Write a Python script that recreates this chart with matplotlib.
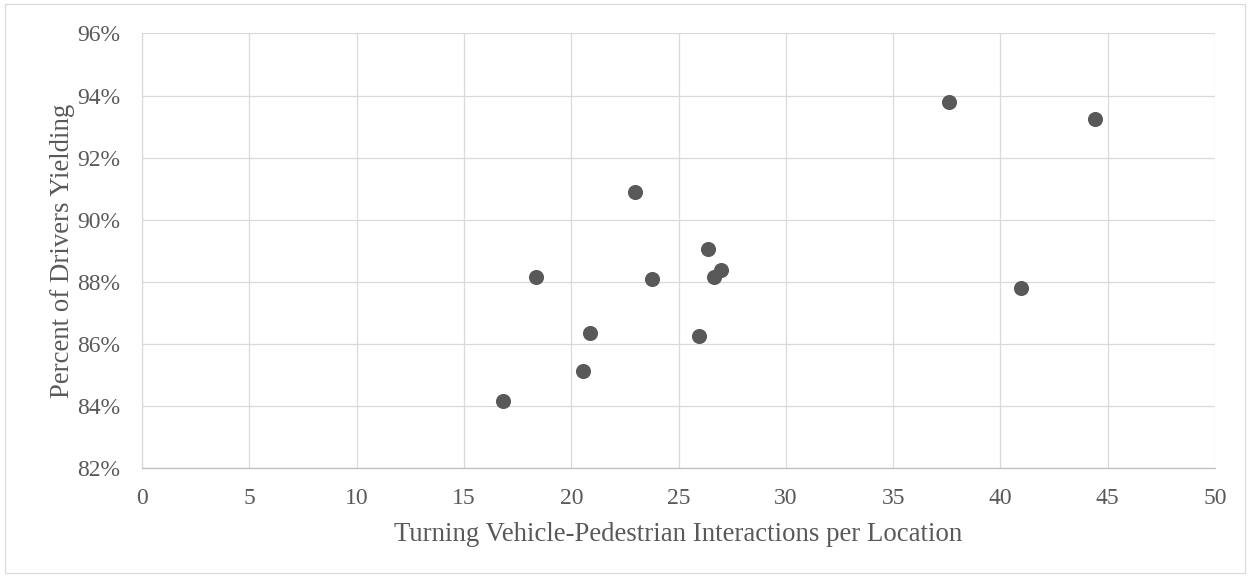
import matplotlib
matplotlib.use('Agg')
import matplotlib.pyplot as plt
from matplotlib.ticker import FuncFormatter, MultipleLocator
from matplotlib.patches import Rectangle

# turning vehicle-pedestrian interactions per location vs percent yielding
interactions = [16.82, 18.35, 20.55, 20.89, 22.99, 23.76, 25.97, 26.36, 26.65, 26.98,
                37.61, 44.43, 40.94]
pct_yielding = [84.15, 88.16, 85.12, 86.35, 90.89, 88.08, 86.26, 89.05, 88.15, 88.37,
                93.80, 93.25, 87.80]

plt.rcParams['font.family'] = ['Liberation Serif', 'DejaVu Serif']
text_col = '#595959'

fig = plt.figure(figsize=(12.5, 5.77), dpi=100)
ax = fig.add_axes([0.1137, 0.1894, 0.8583, 0.7526])

ax.scatter(interactions, pct_yielding, s=118, color='#595959', zorder=3, linewidths=0)

ax.set_xlim(0, 50)
ax.set_ylim(82, 96)
ax.xaxis.set_major_locator(MultipleLocator(5))
ax.yaxis.set_major_locator(MultipleLocator(2))
ax.yaxis.set_major_formatter(FuncFormatter(lambda v, p: '%d%%' % round(v)))

ax.grid(True, color='#d9d9d9', linewidth=0.9, zorder=0)
ax.set_axisbelow(True)
for s in ['top', 'right']:
    ax.spines[s].set_visible(False)
ax.spines['left'].set_color('#d9d9d9')
ax.spines['bottom'].set_color('#bfbfbf')
ax.spines['left'].set_linewidth(0.9)
ax.spines['bottom'].set_linewidth(0.9)

ax.tick_params(axis='both', length=0, labelsize=17, labelcolor=text_col)
ax.tick_params(axis='x', pad=14.5)
ax.tick_params(axis='y', pad=16)

ax.set_xlabel('Turning Vehicle-Pedestrian Interactions per Location', fontsize=19.3,
              color=text_col, labelpad=9.5)
ax.set_ylabel('Percent of Drivers Yielding', fontsize=19.3, color=text_col, labelpad=1)

# light outer chart border
fig.patches.append(Rectangle((0.004, 0.007), 0.992, 0.986, transform=fig.transFigure,
                             fill=False, edgecolor='#d9d9d9', linewidth=0.9))

fig.savefig('out.png', dpi=100)
